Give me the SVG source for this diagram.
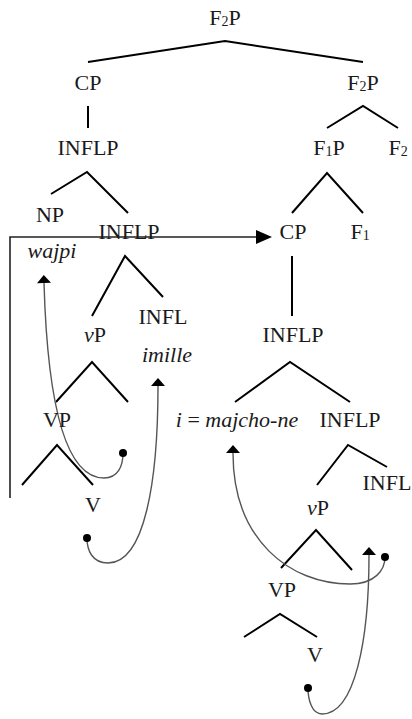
<svg xmlns="http://www.w3.org/2000/svg" width="412" height="719" viewBox="0 0 412 719">
<defs>
<style>
.t{font-size:22px;fill:#1a1a1a;text-anchor:middle}
.i{font-style:italic}
.sub{font-size:14px}
.e{fill:none;stroke:#000;stroke-width:2}
.c{fill:none;stroke:#555;stroke-width:1.4}
.dot{fill:#000}
</style>
<marker id="ah" markerUnits="userSpaceOnUse" markerWidth="12" markerHeight="16" refX="0" refY="7" orient="auto-start-reverse" overflow="visible">
<path d="M0,0 L8,7 L0,14 z" fill="#000"/>
</marker>
<marker id="ahb" markerUnits="userSpaceOnUse" markerWidth="18" markerHeight="16" refX="0" refY="7" orient="auto" overflow="visible">
<path d="M0,0 L16,7 L0,14 z" fill="#000"/>
</marker>
</defs>
<rect width="412" height="719" fill="#fff"/>

<g id="edges">
<polyline class="e" points="88,62 225,41 363,62"/>
<line class="e" x1="88" y1="106" x2="88" y2="128"/>
<polyline class="e" points="327,128 363,106 398,128"/>
<polyline class="e" points="51,194 87,172 128,213"/>
<polyline class="e" points="292,213 327,173 363,213"/>
<line class="e" x1="292" y1="256" x2="292" y2="316"/>
<polyline class="e" points="92,316 125,256 163,297"/>
<polyline class="e" points="56,402 92,362 128,402"/>
<polyline class="e" points="235,402 290,362 350,402"/>
<polyline class="e" points="22,485 57,445 93,485"/>
<polyline class="e" points="317,485 348,445 387,467"/>
<polyline class="e" points="281,568 316,530 352,570"/>
<polyline class="e" points="244,637 280,614 317,637"/>
</g>

<g id="connectors">
<path d="M10,498 V237 H256" fill="none" stroke="#222" stroke-width="1.6" marker-end="url(#ahb)"/>
<path class="c" d="M44,283 C48,420 70,478 104,478 C118,478 123,466 123,453" marker-start="url(#ah)"/>
<circle class="dot" cx="123" cy="453" r="4"/>
<path class="c" d="M158,386 C158,480 145,563 108,563 C92,563 87,550 87,538" marker-start="url(#ah)"/>
<circle class="dot" cx="87" cy="538" r="4"/>
<path class="c" d="M233,453 C233,540 290,584 350,584 C375,584 385,570 385,557" marker-start="url(#ah)"/>
<circle class="dot" cx="385" cy="557" r="4"/>
<path class="c" d="M369,555 C369,640 355,714 322,714 C312,714 308,700 308,688" marker-start="url(#ah)"/>
<circle class="dot" cx="308" cy="688" r="4"/>
</g>

<g font-family="'Liberation Serif', 'Times New Roman', 'DejaVu Serif', serif">
<g id="n-f2p-top"><text class="t" x="225" y="25">F<tspan class="sub" dy="1">2</tspan><tspan dy="-1">P</tspan></text></g>
<g id="n-cp1"><text class="t" x="88" y="90">CP</text></g>
<g id="n-f2p"><text class="t" x="363" y="90">F<tspan class="sub" dy="1">2</tspan><tspan dy="-1">P</tspan></text></g>
<g id="n-inflp1"><text class="t" x="88" y="155">INFLP</text></g>
<g id="n-f1p"><text class="t" x="329" y="155">F<tspan class="sub" dy="1">1</tspan><tspan dy="-1">P</tspan></text></g>
<g id="n-f2"><text class="t" x="398" y="155">F<tspan class="sub" dy="1">2</tspan></text></g>
<g id="n-np"><text class="t" x="50" y="222">NP</text></g>
<g id="n-inflp2"><text class="t" x="129" y="239">INFLP</text></g>
<g id="n-wajpi"><text class="t i" x="52" y="258">wajpi</text></g>
<g id="n-cp2"><text class="t" x="293" y="239">CP</text></g>
<g id="n-f1"><text class="t" x="360" y="239">F<tspan class="sub" dy="1">1</tspan></text></g>
<g id="n-inflp3"><text class="t" x="293" y="342">INFLP</text></g>
<g id="n-infl1"><text class="t" x="163" y="324">INFL</text></g>
<g id="n-vp1"><text class="t" x="95" y="342"><tspan class="i">v</tspan>P</text></g>
<g id="n-imille"><text class="t i" x="167" y="362">imille</text></g>
<g id="n-vp-big1"><text class="t" x="57" y="427">VP</text></g>
<g id="n-v1"><text class="t" x="93" y="512">V</text></g>
<g id="n-majcho"><text class="t" x="237" y="427"><tspan class="i">i</tspan> = <tspan class="i">majcho-ne</tspan></text></g>
<g id="n-inflp4"><text class="t" x="350" y="427">INFLP</text></g>
<g id="n-infl2"><text class="t" x="387" y="490">INFL</text></g>
<g id="n-vp2"><text class="t" x="318" y="515"><tspan class="i">v</tspan>P</text></g>
<g id="n-vp-big2"><text class="t" x="282" y="597">VP</text></g>
<g id="n-v2"><text class="t" x="315" y="662">V</text></g>
</g>
</svg>
